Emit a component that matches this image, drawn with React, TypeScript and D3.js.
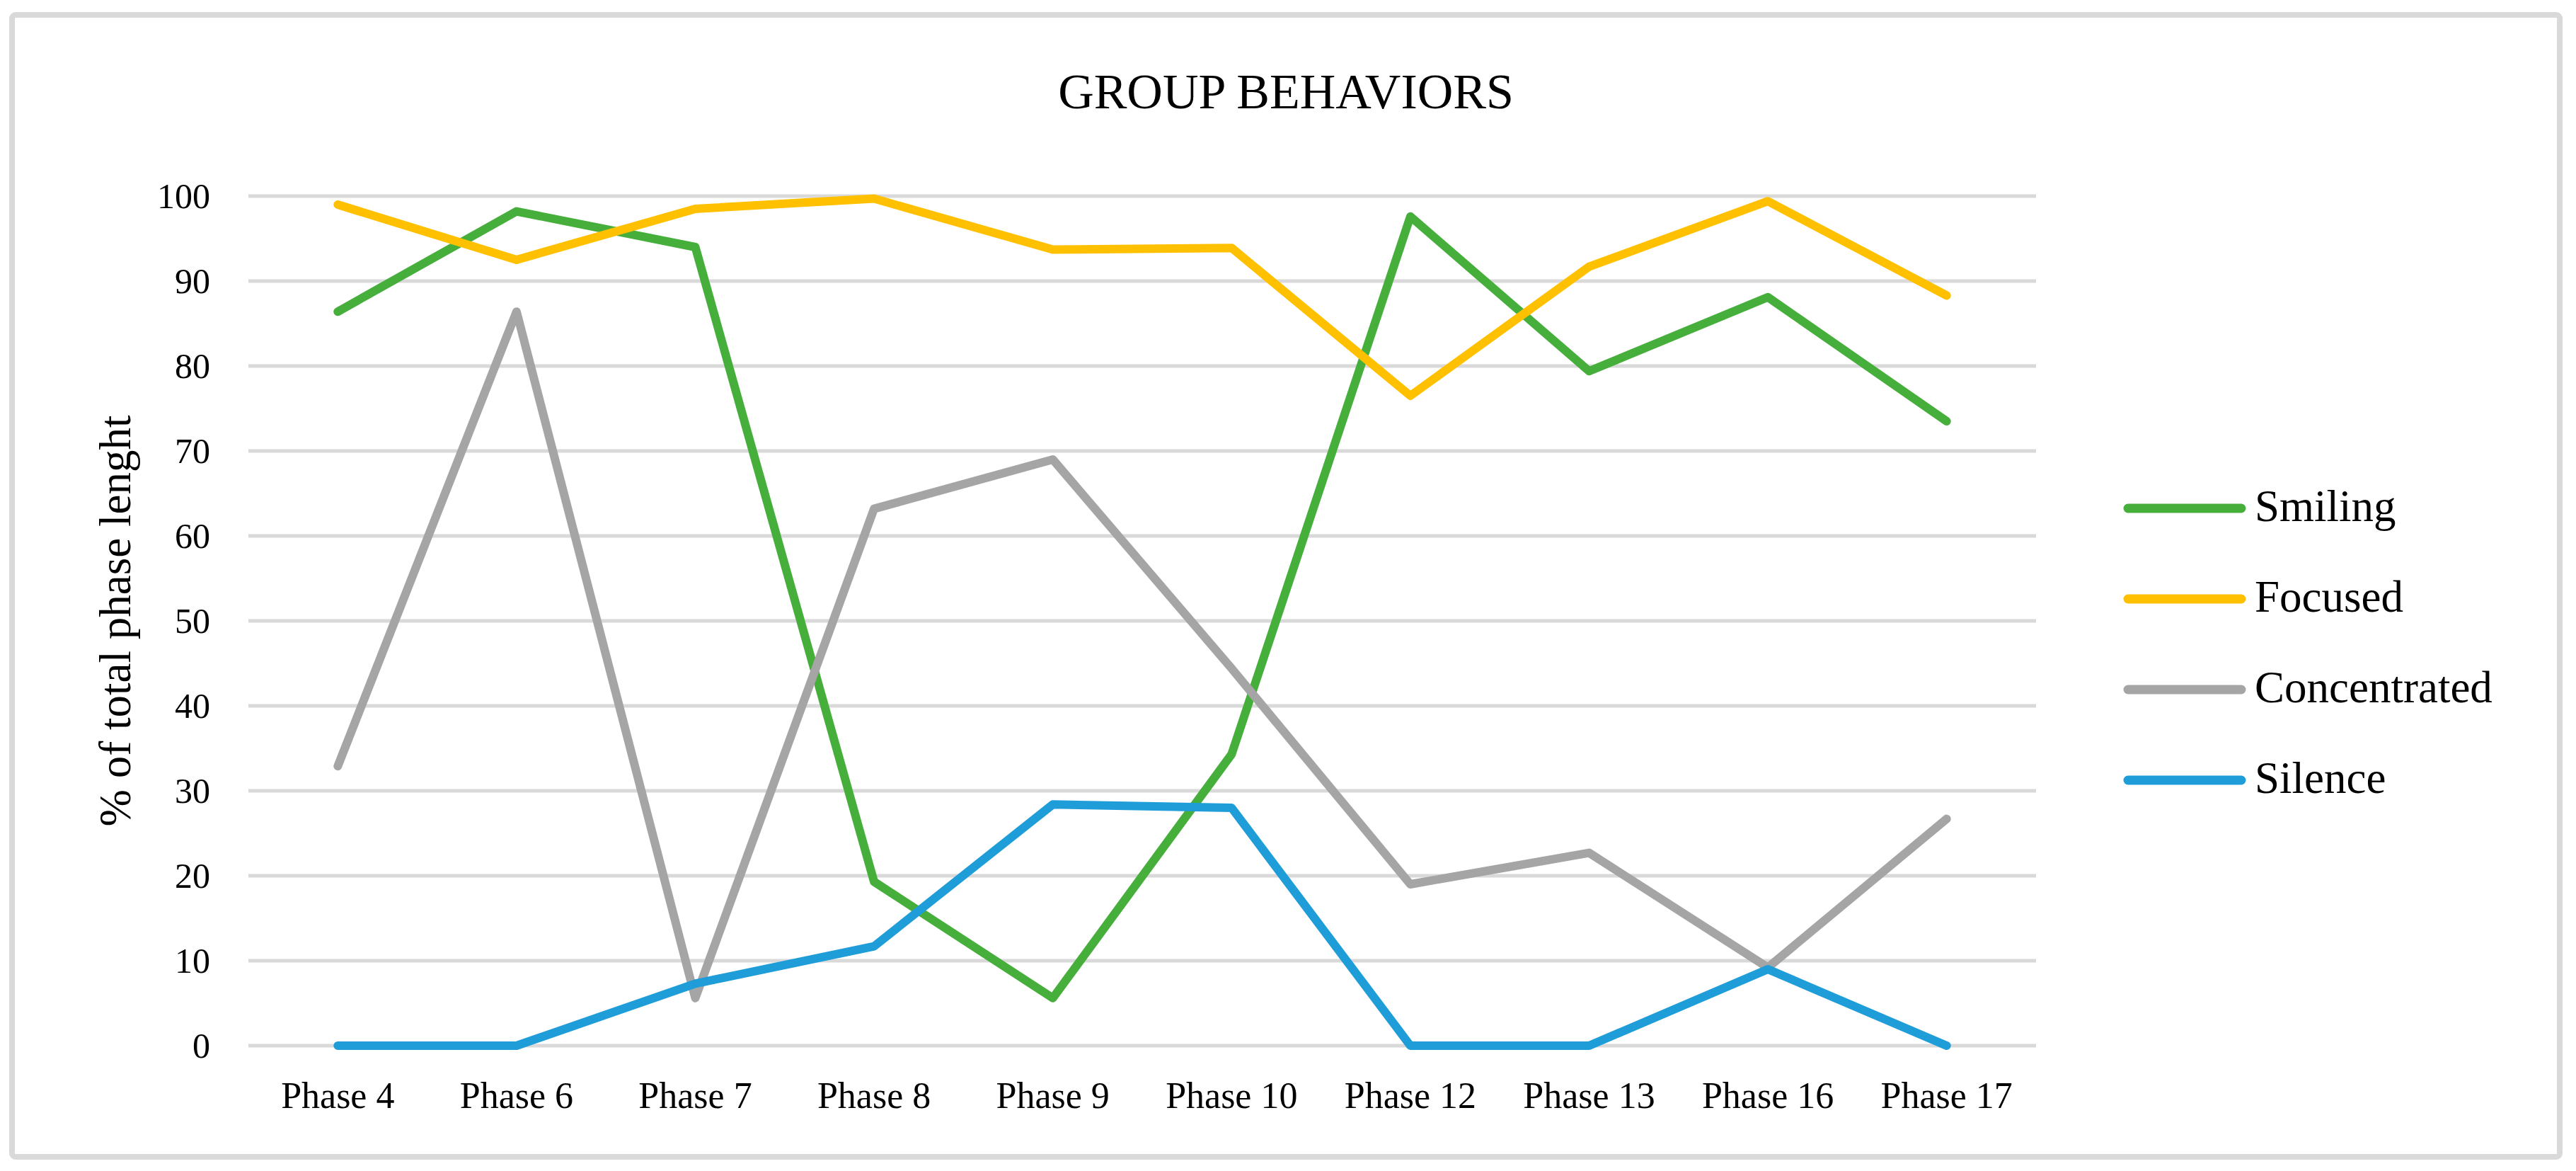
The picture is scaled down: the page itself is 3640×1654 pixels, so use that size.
import * as d3 from "d3";
import React from "react";

const phases = [
  "Phase 4",
  "Phase 6",
  "Phase 7",
  "Phase 8",
  "Phase 9",
  "Phase 10",
  "Phase 12",
  "Phase 13",
  "Phase 16",
  "Phase 17",
];

const smiling = [86.4, 98.2, 94.0, 19.3, 5.6, 34.3, 97.6, 79.4, 88.1, 73.5];
const focused = [99.0, 92.5, 98.5, 99.7, 93.7, 93.9, 76.5, 91.7, 99.4, 88.3];
const concentrated = [32.9, 86.4, 5.6, 63.2, 69.0, 44.4, 19.0, 22.7, 9.2, 26.7];
const silence = [0, 0, 7.3, 11.7, 28.4, 28.0, 0, 0, 9.0, 0];

const yTicks = [0, 10, 20, 30, 40, 50, 60, 70, 80, 90, 100];

const series = [
  { name: "Smiling", values: smiling, color: "#46af3c" },
  { name: "Focused", values: focused, color: "#ffc000" },
  { name: "Concentrated", values: concentrated, color: "#a5a5a5" },
  { name: "Silence", values: silence, color: "#1e9dd9" },
];

const W = 3640;
const H = 1654;
const plot = { left: 351, right: 2877, top: 277, bottom: 1477 };
const font = "'Liberation Serif', 'Times New Roman', serif";

export default function App() {
  const x = d3
    .scalePoint()
    .domain(phases)
    .range([plot.left, plot.right])
    .padding(0.5);
  const y = d3.scaleLinear().domain([0, 100]).range([plot.bottom, plot.top]);

  const line = d3
    .line<number>()
    .x((d, i) => x(phases[i]))
    .y((d) => y(d));

  return (
    <svg
      width={W}
      height={H}
      style={{ position: "absolute", left: 0, top: 0, background: "#fff" }}
      fontFamily={font}
    >
      <rect x={0} y={0} width={W} height={H} fill="#fff" />
      <rect
        x={17}
        y={21}
        width={3600}
        height={1613}
        rx={5}
        fill="#fff"
        stroke="#d9d9d9"
        strokeWidth={8}
      />

      <text x={1817} y={153} fontSize={70} textAnchor="middle" fill="#000">
        GROUP BEHAVIORS
      </text>

      {/* gridlines + y ticks */}
      {yTicks.map((t) => (
        <g key={t}>
          <line
            x1={plot.left}
            x2={plot.right}
            y1={y(t)}
            y2={y(t)}
            stroke="#d9d9d9"
            strokeWidth={5}
          />
          <text
            x={297}
            y={y(t) + 17}
            fontSize={50}
            textAnchor="end"
            fill="#000"
          >
            {t}
          </text>
        </g>
      ))}

      {/* x labels */}
      {phases.map((p) => (
        <text
          key={p}
          x={x(p)}
          y={1565}
          fontSize={52}
          textAnchor="middle"
          fill="#000"
        >
          {p}
        </text>
      ))}

      <text
        transform={`translate(184, ${(plot.top + plot.bottom) / 2}) rotate(-90)`}
        fontSize={63}
        textAnchor="middle"
        fill="#000"
      >
        % of total phase lenght
      </text>

      {series.map((s) => (
        <path
          key={s.name}
          d={line(s.values)}
          fill="none"
          stroke={s.color}
          strokeWidth={12}
          strokeLinecap="round"
          strokeLinejoin="round"
        />
      ))}

      {/* legend */}
      {series.map((s, i) => (
        <g key={s.name} transform={`translate(0, ${718 + i * 128})`}>
          <line
            x1={3007}
            x2={3167}
            y1={0}
            y2={0}
            stroke={s.color}
            strokeWidth={13}
            strokeLinecap="round"
          />
          <text x={3186} y={18} fontSize={63} fill="#000">
            {s.name}
          </text>
        </g>
      ))}
    </svg>
  );
}
